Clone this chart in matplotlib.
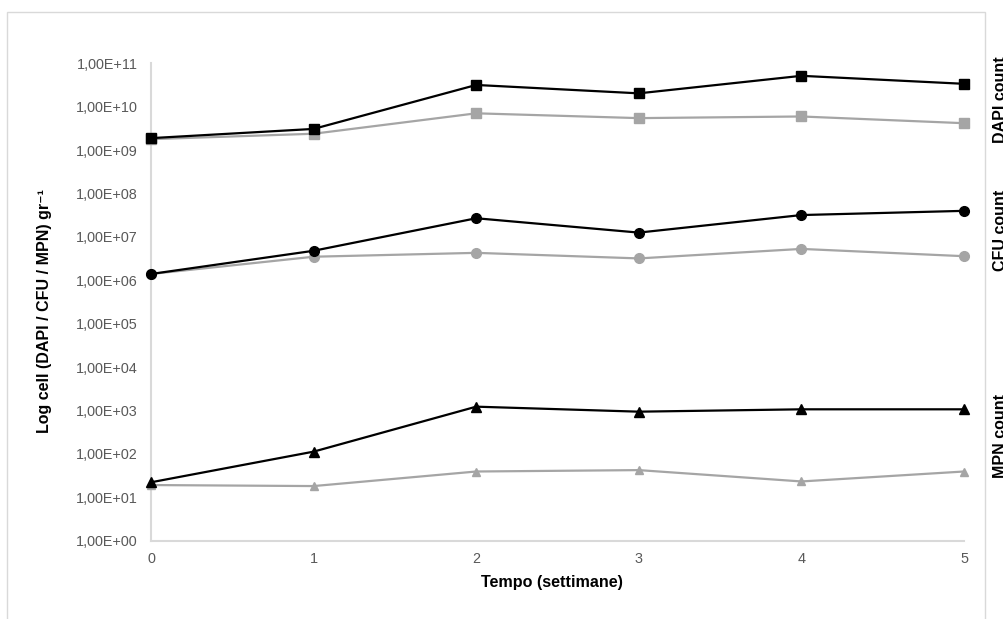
import matplotlib
matplotlib.use("Agg")
import matplotlib.pyplot as plt
from matplotlib.patches import Rectangle
from matplotlib.ticker import FixedLocator, FixedFormatter, NullLocator

plt.rcParams['font.family'] = ['Liberation Sans', 'DejaVu Sans']

weeks = [0, 1, 2, 3, 4, 5]
dapi_black = [1.9e9, 3.1e9, 3.2e10, 2.05e10, 5.2e10, 3.4e10]
dapi_grey = [1.8e9, 2.4e9, 7.1e9, 5.5e9, 6.0e9, 4.2e9]
cfu_black = [1.4e6, 4.8e6, 2.7e7, 1.26e7, 3.2e7, 4.0e7]
cfu_grey = [1.4e6, 3.5e6, 4.3e6, 3.2e6, 5.3e6, 3.6e6]
mpn_black = [22, 112, 1220, 935, 1060, 1060]
mpn_grey = [19, 18, 39, 42, 23, 39]
ytick_values = [10.0 ** k for k in range(0, 12)]
ytick_labels = ["1,00E+%02d" % k for k in range(0, 12)]
xtick_labels = ["0", "1", "2", "3", "4", "5"]
side_labels = ["DAPI count", "CFU count", "MPN count"]

W, H = 1004, 619
fig = plt.figure(figsize=(W / 100, H / 100), dpi=100)
ax = fig.add_axes([151 / W, 1 - 540.5 / H, (964 - 151) / W, (540.5 - 63.5) / H])

black = "#000000"
grey = "#a5a5a5"
lw = 1.6
kw = dict(clip_on=False)
ax.plot(weeks, dapi_grey, color=grey, lw=lw, marker="s", ms=7, mec=grey, mfc=grey, zorder=3, **kw)
ax.plot(weeks, dapi_black, color=black, lw=lw, marker="s", ms=7.5, mec=black, mfc=black, zorder=4, **kw)
ax.plot(weeks, cfu_grey, color=grey, lw=lw, marker="o", ms=7, mec=grey, mfc=grey, zorder=3, **kw)
ax.plot(weeks, cfu_black, color=black, lw=lw, marker="o", ms=7, mec=black, mfc=black, zorder=4, **kw)
ax.plot(weeks, mpn_grey, color=grey, lw=lw, marker="^", ms=6, mec=grey, mfc=grey, zorder=3, **kw)
ax.plot(weeks, mpn_black, color=black, lw=lw, marker="^", ms=7, mec=black, mfc=black, zorder=4, **kw)

ax.set_yscale("log")
ax.set_ylim(1, 1e11)
ax.set_xlim(0, 5)
ax.yaxis.set_major_locator(FixedLocator(ytick_values))
ax.yaxis.set_major_formatter(FixedFormatter(ytick_labels))
ax.yaxis.set_minor_locator(NullLocator())
ax.set_xticks(weeks)
ax.set_xticklabels(xtick_labels)

for s in ["top", "right"]:
    ax.spines[s].set_visible(False)
for s in ["left", "bottom"]:
    ax.spines[s].set_color("#d9d9d9")
    ax.spines[s].set_linewidth(1.5)
    ax.spines[s].set_zorder(1)
ax.tick_params(axis="both", length=0, labelsize=10.4, labelcolor="#595959")
ax.tick_params(axis="y", pad=9.5)
ax.tick_params(axis="x", pad=8.5)

ax.set_xlabel("Tempo (settimane)", fontsize=11.6, fontweight="bold")
ax.xaxis.set_label_coords((552 - 151) / 813, -(575 - 540.5) / 477)
ax.set_ylabel("Log cell (DAPI / CFU / MPN) gr\u207b\u00b9", fontsize=11.5, fontweight="bold")
ax.yaxis.set_label_coords((52 - 151) / 813, (540.5 - 311) / 477)

# chart area border
fig.patches.append(Rectangle((7 / W, -0.05), (985 - 7) / W, 1.05 - 12 / H, transform=fig.transFigure,
                             fill=False, edgecolor="#d9d9d9", lw=1.0))

for lab, yc in zip(side_labels, [100, 230, 436]):
    fig.text(993 / W, 1 - yc / H, lab, rotation=90, ha="left", va="center",
             fontsize=11.5, fontweight="bold", color="black")

fig.savefig("out.png", dpi=100)
